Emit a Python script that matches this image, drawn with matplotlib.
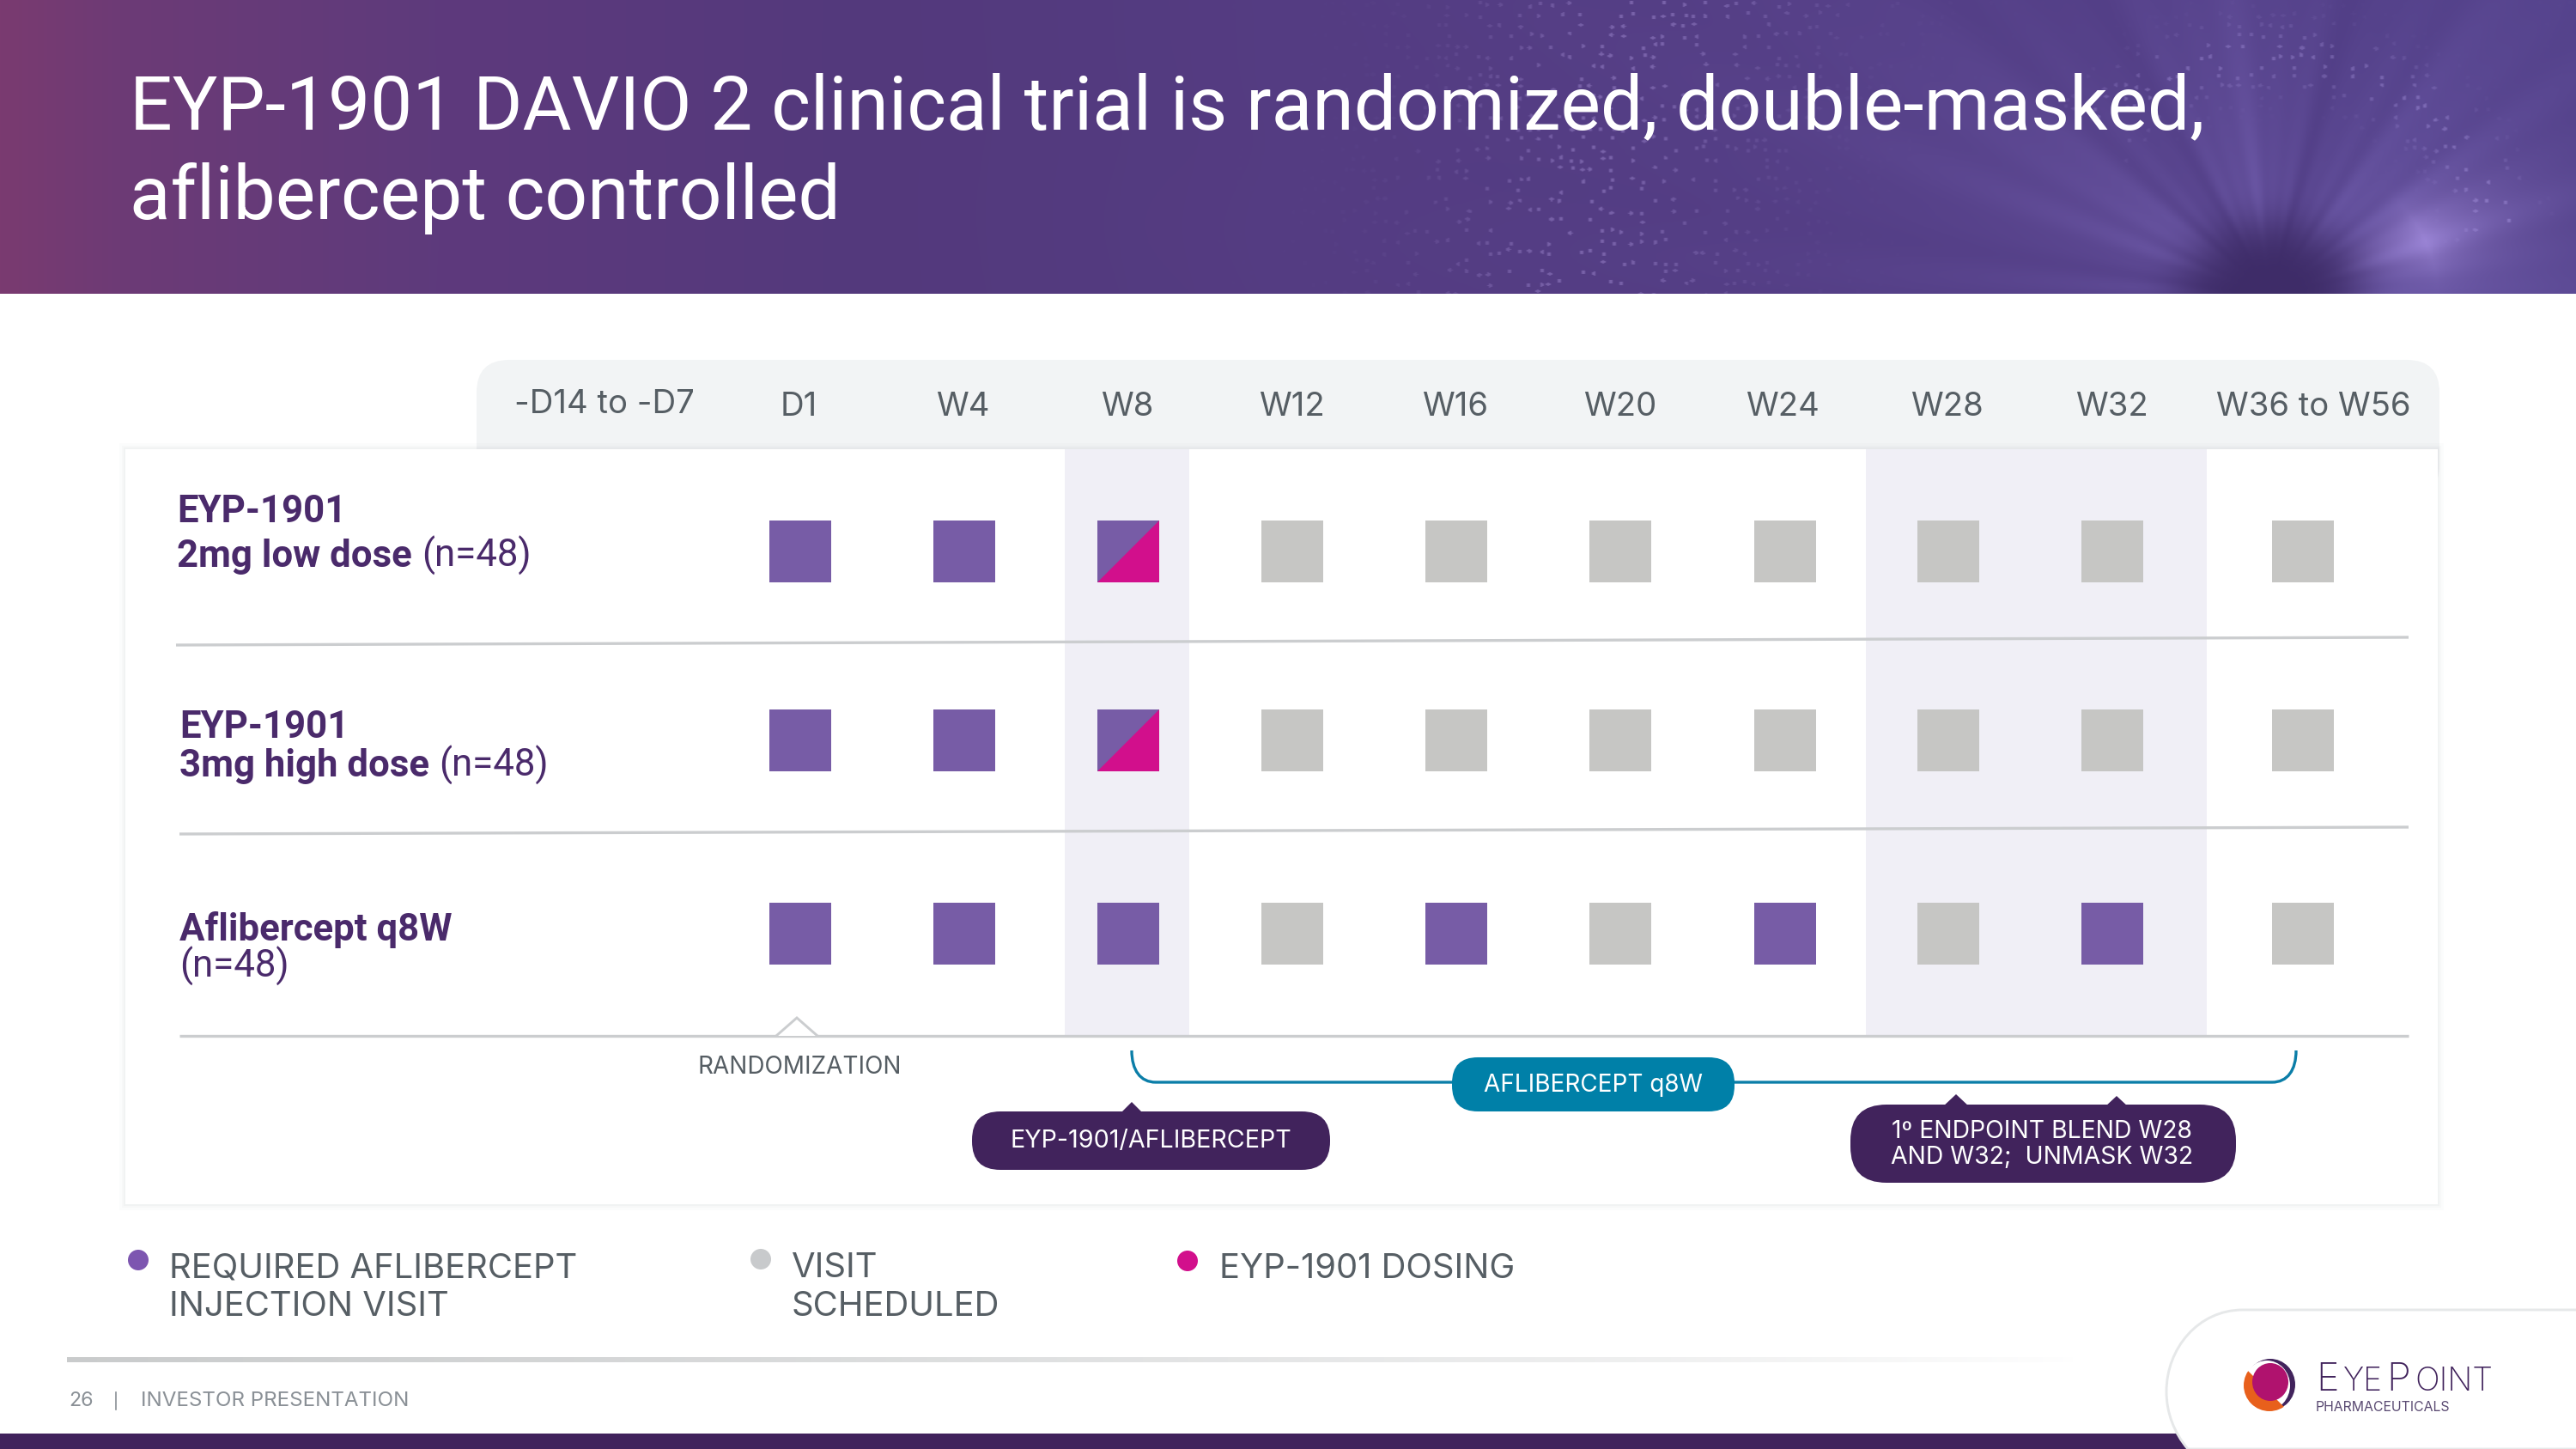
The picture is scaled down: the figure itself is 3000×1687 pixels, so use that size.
import numpy as np
import matplotlib
matplotlib.use('Agg')
import matplotlib.pyplot as plt
from matplotlib.patches import Rectangle, FancyBboxPatch, Polygon, Ellipse, Circle, PathPatch
from matplotlib.path import Path

plt.rcParams['font.family'] = ['Roboto', 'DejaVu Sans']

# chart content
visit_labels = ['-D14 to -D7', 'D1', 'W4', 'W8', 'W12', 'W16', 'W20', 'W24', 'W28', 'W32', 'W36 to W56']
visits = ['D1', 'W4', 'W8', 'W12', 'W16', 'W20', 'W24', 'W28', 'W32', 'W36']
# R = required aflibercept injection, V = visit scheduled, D = EYP-1901 dosing at that visit
arm_low = ['R', 'R', 'D', 'V', 'V', 'V', 'V', 'V', 'V', 'V']
arm_high = ['R', 'R', 'D', 'V', 'V', 'V', 'V', 'V', 'V', 'V']
arm_afli = ['R', 'R', 'R', 'V', 'R', 'V', 'R', 'V', 'R', 'V']
arms = [arm_low, arm_high, arm_afli]
title_lines = ['EYP-1901 DAVIO 2 clinical trial is randomized, double-masked,', 'aflibercept controlled']
legend_items = ['REQUIRED AFLIBERCEPT\nINJECTION VISIT', 'VISIT\nSCHEDULED', 'EYP-1901 DOSING']

PURPLE = '#775ca6'
GREY = '#c6c6c4'
PINK = '#d20f8c'
DARK = '#41235c'
TEAL = '#0080a8'
TXT = '#565e64'
LABEL = '#4a2a6b'
BAND = '#f0eff6'
WIDE = ['Inter', 'DejaVu Sans']  # the slide tracks these labels out, Inter gets close to that width

fig = plt.figure(figsize=(10, 5.6234), dpi=300)
ax = fig.add_axes([0, 0, 1, 1])
ax.set_axis_off()


def reset_limits():
    ax.set_xlim(0, 3000)
    ax.set_ylim(1687, 0)


def header_image():
    # purple banner with a burst in the right corner
    h, w = 342, 1500
    xx, yy = np.meshgrid(np.linspace(0, 3000, w), np.linspace(0, 342, h))
    stops_x = [0, 150, 500, 1000, 1500, 3000]
    stops = np.array([[122, 58, 112], [108, 58, 118], [94, 58, 124], [83, 57, 124], [84, 60, 130], [80, 62, 134]])
    img = np.dstack([np.interp(xx, stops_x, stops[:, i]) for i in range(3)])
    # rays
    dx, dy = xx - 2645, yy - 345
    r = np.hypot(dx, dy * 1.15)
    ang = np.arctan2(-dy, dx)
    rays = 0.6 + 0.12 * np.sin(ang * 23) + 0.08 * np.sin(ang * 41 + 1) + 0.25 * np.sin(ang * 7 + 2)
    fade = np.exp(-r / 320)
    img += (fade * rays * 46)[..., None] * np.array([0.8, 0.8, 1.0])
    # brighter beam on the right
    beam = np.exp(-((ang - 0.36) / 0.24) ** 2) * np.exp(-np.abs(r - 195) / 90)
    img += (beam * 66)[..., None] * np.array([0.95, 0.9, 1.0])
    # dark eye
    eye = np.exp(-(np.hypot((xx - 2645) / 112, (yy - 345) / 92)) ** 4)
    img = img * (1 - eye[..., None]) + np.array([62, 44, 104]) * eye[..., None]
    # speckles, from a fixed jittered lattice
    ci, cj = np.floor(xx / 12), np.floor(yy / 12)
    h1 = np.sin(ci * 12.9898 + cj * 78.233) * 43758.5453
    h2 = np.sin(ci * 39.346 + cj * 11.135) * 24634.6345
    h3 = np.sin(ci * 73.156 + cj * 52.235) * 13758.937
    h1, h2, h3 = h1 % 1, h2 % 1, h3 % 1
    dot = (np.hypot(xx % 12 - 3 - 6 * h1, yy % 12 - 3 - 6 * h2) < 2.3) & (h3 > 0.62)
    ring1 = np.exp(-((np.hypot(dx, dy) - 800) / 170) ** 2)
    ring2 = np.exp(-((np.hypot(dx, dy) - 280) / 40) ** 2) * (ang > 0.25) * (ang < 2.4)
    img += (dot * (ring1 * 36 + ring2 * 30))[..., None]
    return np.clip(img / 255, 0, 1)


ax.imshow(header_image(), extent=[0, 3000, 342, 0], aspect='auto', zorder=1, interpolation='bilinear')
for i, line in enumerate(title_lines):
    ax.text(151, [150, 255][i], line, color='white', fontsize=21.0, va='baseline', zorder=3)

# header tab behind the card
ax.add_patch(FancyBboxPatch((555, 419), 2286, 160, boxstyle='round,pad=0,rounding_size=38',
                            fc='#f2f4f5', ec='none', zorder=1))
col_label_x = [704, 930, 1121, 1313, 1504, 1695, 1887, 2076, 2267, 2459, 2694]
for i, lab in enumerate(visit_labels):
    ax.text(col_label_x[i], 471 if i == 0 else 474, lab, color=TXT, fontsize=9.2, fontfamily=WIDE,
            ha='center', va='center', zorder=3)

# card with a soft shadow
for grow, a in [(7, 0.03), (4, 0.04), (2, 0.06)]:
    ax.add_patch(Rectangle((146 - grow, 523 - grow), 2693 + 2 * grow, 879 + 2 * grow,
                           fc='#9aa3a8', ec='none', alpha=a, zorder=1.5))
ax.add_patch(Rectangle((146, 523), 2693, 879, fc='white', ec='none', zorder=2))
ax.add_patch(Rectangle((1240, 523), 145, 682, fc=BAND, ec='none', zorder=2.1))
ax.add_patch(Rectangle((2173, 523), 397, 682, fc=BAND, ec='none', zorder=2.1))

# row rules
for x0, y0, x1, y1 in [(205, 751, 2805, 742), (209, 971, 2805, 963), (209, 1206, 2805, 1206)]:
    ax.plot([x0, x1], [y0, y1], color='#cbcdcf', lw=0.8, solid_capstyle='butt', zorder=2.3)

# visit squares
col_x = [932, 1123, 1314, 1505, 1696, 1887, 2079, 2269, 2460, 2682]
row_y = [642, 862, 1087]
SQ = 72
state_colors = {'R': PURPLE, 'V': GREY, 'D': PURPLE}
for r, arm in enumerate(arms):
    for c, state in enumerate(arm):
        x, y = col_x[c] - SQ / 2, row_y[r] - SQ / 2
        ax.add_patch(Rectangle((x, y), SQ, SQ, fc=state_colors[state], ec='none', zorder=3))
        if state == 'D':
            ax.add_patch(Polygon([(x, y + SQ), (x + SQ, y), (x + SQ, y + SQ)], closed=True,
                                 fc=PINK, ec='none', zorder=3.1))

# row labels, bold part then regular part on the same baseline
renderer = fig.canvas.get_renderer()
reset_limits()


def arm_label(x, y1, bold1, y2, bold2, regular):
    ax.text(x, y1, bold1, color=LABEL, fontsize=10.5, fontweight='bold', va='baseline', zorder=3)
    if bold2:
        t = ax.text(x, y2, bold2, color=LABEL, fontsize=10.5, fontweight='bold', va='baseline', zorder=3)
        x_end = t.get_window_extent(renderer).x1
        ax.text(x_end + 11, y2, regular, color=LABEL, fontsize=10.5, va='baseline', zorder=3)
    else:
        ax.text(x, y2, regular, color=LABEL, fontsize=10.5, va='baseline', zorder=3)


arm_label(206, 608, 'EYP-1901', 660, '2mg low dose', '(n=48)')
arm_label(209, 859, 'EYP-1901', 904, '3mg high dose', '(n=48)')
arm_label(209, 1095, 'Aflibercept q8W', 1138, '', '(n=48)')

# randomization marker
ax.add_patch(Polygon([(904, 1206), (928, 1185), (952, 1206)], closed=False, fc='white', ec='#cbcdcf', lw=0.7, zorder=2.4))
ax.text(931, 1242, 'RANDOMIZATION', color=TXT, fontsize=6.7, fontfamily=WIDE, ha='center', va='center', zorder=3)

# bracket under the table
verts = [(1318, 1223), (1318, 1246), (1328, 1260), (1346, 1260), (2646, 1260), (2664, 1260), (2674, 1246), (2674, 1223)]
codes = [Path.MOVETO, Path.CURVE4, Path.CURVE4, Path.CURVE4, Path.LINETO, Path.CURVE4, Path.CURVE4, Path.CURVE4]
ax.add_patch(PathPatch(Path(verts, codes), fc='none', ec='#0b7ea8', lw=0.8, zorder=3))


def pill(x0, x1, y0, y1, color, rad):
    ax.add_patch(FancyBboxPatch((x0, y0), x1 - x0, y1 - y0, boxstyle='round,pad=0,rounding_size=%d' % rad,
                                fc=color, ec='none', zorder=3.2))


pill(1691, 2020, 1231, 1294, TEAL, 30)
ax.text(1855, 1263, 'AFLIBERCEPT q8W', color='white', fontsize=6.7, fontfamily=WIDE, ha='center', va='center', zorder=4)
pill(1132, 1549, 1294, 1362, DARK, 33)
ax.add_patch(Polygon([(1304, 1297), (1318, 1283), (1332, 1297)], fc=DARK, ec='none', zorder=3.2))
ax.text(1340, 1328, 'EYP-1901/AFLIBERCEPT', color='white', fontsize=6.9, fontfamily=WIDE, ha='center', va='center', zorder=4)
pill(2155, 2604, 1286, 1377, DARK, 42)
ax.add_patch(Polygon([(2262, 1289), (2278, 1274), (2294, 1289)], fc=DARK, ec='none', zorder=3.2))
ax.add_patch(Polygon([(2451, 1289), (2465, 1276), (2479, 1289)], fc=DARK, ec='none', zorder=3.2))
ax.text(2378, 1317, '1º ENDPOINT BLEND W28', color='white', fontsize=6.8, fontfamily=WIDE, ha='center', va='center', zorder=4)
ax.text(2378, 1347, 'AND W32;  UNMASK W32', color='white', fontsize=6.8, fontfamily=WIDE, ha='center', va='center', zorder=4)

# legend
legend_x = [161, 886, 1383]
legend_dot_y = [1467, 1466, 1468]
legend_colors = ['#7d56b0', '#c8cacc', PINK]
legend_tx = [197, 922, 1420]
for i, lab in enumerate(legend_items):
    ax.add_patch(Circle((legend_x[i], legend_dot_y[i]), 12, fc=legend_colors[i], ec='none', zorder=3))
    for j, part in enumerate(lab.split('\n')):
        ax.text(legend_tx[i], 1487 + j * 45 + (1 if i == 2 else 0), part, color=TXT, fontsize=9.6, fontfamily=WIDE,
                va='baseline', zorder=3)

# footer
fade = np.ones((1, 400, 4))
fade[..., :3] = np.array(matplotlib.colors.to_rgb('#c9cbcc'))
fade[..., 3] = np.linspace(1, 0, 400) ** 0.8
ax.imshow(fade, extent=[78, 2420, 1586, 1581], aspect='auto', zorder=2)
ax.text(80, 1631, '26', color='#8a9096', fontsize=5.6, fontfamily=WIDE, va='center', zorder=3)
ax.plot([135, 135], [1621, 1641], color='#8a9096', lw=0.4, zorder=3)
ax.text(164, 1631, 'INVESTOR PRESENTATION', color='#8a9096', fontsize=5.8, fontfamily=WIDE, va='center', zorder=3)
ax.add_patch(Rectangle((0, 1669), 3000, 18, fc=DARK, ec='none', zorder=2))

# logo tab
tab_v = [(3000, 1525), (2612, 1525), (2560, 1525), (2523, 1570), (2523, 1620), (2523, 1645), (2532, 1668), (2548, 1687), (3000, 1687)]
tab_c = [Path.MOVETO, Path.LINETO, Path.CURVE4, Path.CURVE4, Path.CURVE4, Path.CURVE4, Path.CURVE4, Path.CURVE4, Path.LINETO]
ax.add_patch(PathPatch(Path(tab_v, tab_c), fc='white', ec='#e6e8e9', lw=0.7, zorder=2.5))

# logo mark
ax.add_patch(Ellipse((2644, 1612), 58, 60, fc=DARK, ec='none', zorder=3))
ax.add_patch(Ellipse((2640, 1613), 54, 58, fc='white', ec='none', zorder=3.1))
clip = Ellipse((2643, 1613), 60, 60, transform=ax.transData)
orange = Polygon([(2610, 1592), (2618, 1596), (2672, 1650), (2610, 1650)], fc='#e8601c', ec='none', zorder=3.2)
ax.add_patch(orange)
orange.set_clip_path(clip)
ax.add_patch(Ellipse((2644, 1609), 42, 44, fc='#b0126e', ec='none', zorder=3.3))

# logo wordmark, small caps built from two sizes
wx = 2697
for part, size in [('E', 10.8), ('YE', 8.9), ('P', 10.8), ('OINT', 9.1)]:
    t = ax.text(wx, 1619, part, color=DARK, fontsize=size, fontfamily=WIDE, fontweight='light', va='baseline', zorder=3)
    wx = t.get_window_extent(renderer).x1 + 5
ax.text(2697, 1638, 'PHARMACEUTICALS', color='#5a4a72', fontsize=3.8, fontfamily=WIDE, va='center', zorder=3)

reset_limits()
fig.savefig('out.png', dpi=300, facecolor='white')
